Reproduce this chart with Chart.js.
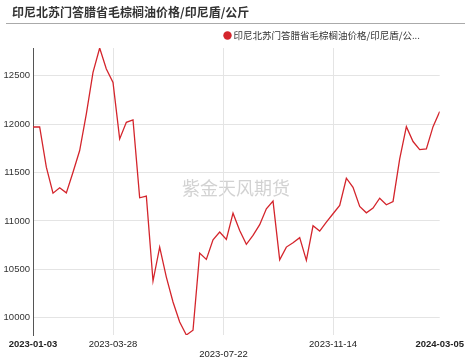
<!DOCTYPE html>
<html><head><meta charset="utf-8">
<script src="https://cdn.jsdelivr.net/npm/chart.js@4/dist/chart.umd.min.js"></script>
<style>html,body{margin:0;padding:0;background:#fff}#wrap{width:469px;height:360px;position:relative}</style>
</head><body><div id="wrap"><canvas id="c" width="469" height="360"></canvas></div>
<script>
const TITLE = '印尼北苏门答腊省毛棕榈油价格/印尼盾/公斤';
const SERIES_NAME = '印尼北苏门答腊省毛棕榈油价格/印尼盾/公斤';
const WATERMARK = '紫金天风期货';
const dates = [
 '2023-01-03','2023-01-10','2023-01-17','2023-01-24','2023-01-31','2023-02-07','2023-02-14','2023-02-21','2023-02-28','2023-03-07',
 '2023-03-14','2023-03-21','2023-03-28','2023-04-04','2023-04-11','2023-04-18','2023-04-25','2023-05-02','2023-05-09','2023-05-16',
 '2023-05-23','2023-05-30','2023-06-06','2023-06-13','2023-06-20','2023-06-27','2023-07-04','2023-07-11','2023-07-18','2023-07-25',
 '2023-08-01','2023-08-08','2023-08-15','2023-08-22','2023-08-29','2023-09-05','2023-09-12','2023-09-19','2023-09-26','2023-10-03',
 '2023-10-10','2023-10-17','2023-10-24','2023-10-31','2023-11-07','2023-11-14','2023-11-21','2023-11-28','2023-12-05','2023-12-12',
 '2023-12-19','2023-12-26','2024-01-02','2024-01-09','2024-01-16','2024-01-23','2024-01-30','2024-02-06','2024-02-13','2024-02-20',
 '2024-02-27','2024-03-05'];
const prices = [
 11970,11970,11555,11287,11342,11290,11503,11727,12105,12535,
 12786,12569,12431,11847,12019,12043,11239,11256,10379,10730,
 10420,10163,9957,9822,9871,10668,10603,10806,10885,10809,
 11080,10902,10758,10850,10961,11126,11205,10599,10730,10775,
 10827,10593,10950,10895,10988,11074,11160,11441,11348,11149,
 11084,11132,11235,11167,11201,11641,11974,11820,11737,11744,
 11974,12129];
const tickDates = ['2023-01-03','2023-03-28','2023-07-22','2023-11-14','2024-03-05'];
const yTicks = [10000,10500,11000,11500,12000,12500];

const DAY = 86400000;
const t0 = Date.parse(dates[0]);
const dayOf = s => Math.round((Date.parse(s) - t0) / DAY);
const points = dates.map((d, i) => ({x: dayOf(d), y: prices[i]}));
const tickDays = tickDates.map(dayOf);
const RED = '#d4252c';
const FAM = '"Liberation Sans", Arial, sans-serif';
const CJK = '"Noto Sans CJK SC", "Noto Sans", sans-serif';

const decor = {
  id: 'decor',
  beforeDraw(chart) {
    const ctx = chart.ctx;
    ctx.save();
    ctx.fillStyle = '#333';
    ctx.font = 'bold 12px ' + CJK;
    ctx.textBaseline = 'middle';
    ctx.textAlign = 'left';
    ctx.fillText(TITLE, 12, 12);
    ctx.strokeStyle = '#aaaaaa';
    ctx.lineWidth = 1;
    ctx.beginPath(); ctx.moveTo(6, 23.5); ctx.lineTo(465, 23.5); ctx.stroke();
    // legend
    ctx.fillStyle = RED;
    ctx.beginPath(); ctx.arc(227.5, 35.5, 4.2, 0, Math.PI * 2); ctx.fill();
    ctx.font = '9.5px ' + CJK;
    let txt = SERIES_NAME;
    if (ctx.measureText(txt).width > 180) {
      txt = txt.slice(0, -1);
      while (txt.length > 1 && ctx.measureText(txt + '...').width > 194) txt = txt.slice(0, -1);
      txt += '...';
    }
    ctx.fillStyle = '#333';
    ctx.fillText(txt, 233.5, 35.5);
    // watermark
    ctx.fillStyle = 'rgba(180,180,180,0.6)';
    ctx.font = '18px ' + CJK;
    ctx.textAlign = 'center';
    ctx.fillText(WATERMARK, 236, 188);
    ctx.restore();
  }
};

new Chart(document.getElementById('c'), {
  type: 'line',
  data: { datasets: [{
    label: SERIES_NAME, data: points, borderColor: RED, backgroundColor: RED,
    borderWidth: 1.3, pointRadius: 0, tension: 0, fill: false
  }]},
  options: {
    responsive: false, animation: false, devicePixelRatio: 1,
    layout: { padding: { top: 48, right: 29, left: 0, bottom: 0 } },
    plugins: { legend: { display: false }, title: { display: false }, tooltip: { enabled: false } },
    scales: {
      x: {
        type: 'linear', min: 0, max: tickDays[tickDays.length - 1], offset: false,
        afterBuildTicks: s => { s.ticks = tickDays.map(v => ({value: v})); },
        afterFit: s => { s.height = 25; },
        border: { display: false },
        grid: { drawTicks: false, color: c => (c.index === 0 || c.index === tickDays.length - 1) ? 'rgba(0,0,0,0)' : '#e4e4e4', lineWidth: 1 },
        ticks: {
          autoSkip: false, maxRotation: 0, minRotation: 0, padding: 5, color: '#222',
          font: c => ({ family: FAM, size: 9.5, lineHeight: 1, weight: (c.index === 0 || c.index === tickDays.length - 1) ? 'bold' : 'normal' }),
          callback: (v, i) => i === 2 ? ['', tickDates[i]] : tickDates[i]
        }
      },
      y: {
        type: 'linear', bounds: 'data',
        min: Math.min(...prices), max: Math.max(...prices),
        afterBuildTicks: s => { s.ticks = yTicks.map(v => ({value: v})); },
        afterFit: s => { s.width = 33; },
        border: { display: true, color: '#555', width: 1 },
        grid: { drawTicks: false, color: '#e4e4e4', lineWidth: 1 },
        ticks: { padding: 3, color: '#333', font: { family: FAM, size: 9.5 }, callback: v => String(v) }
      }
    }
  },
  plugins: [decor]
});
</script></body></html>
